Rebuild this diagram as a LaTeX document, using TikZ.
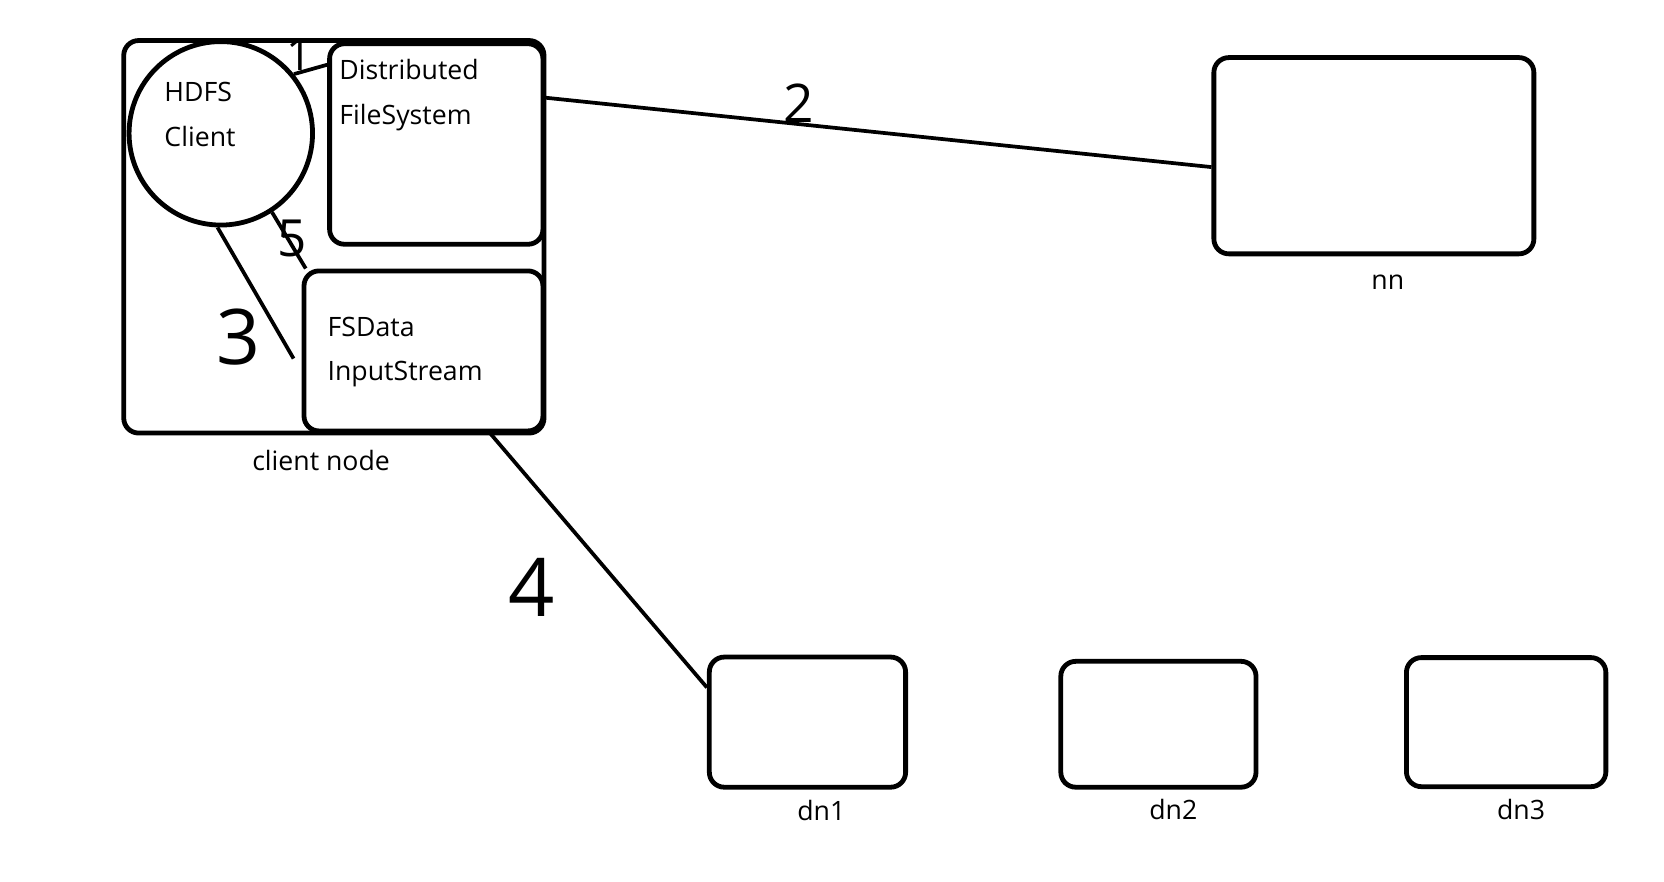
\documentclass[tikz,border=0pt]{standalone}
\usepackage{fontspec}
\setmainfont{Open Sans}
\usetikzlibrary{positioning}

\begin{document}
\begin{tikzpicture}[x=1pt,y=-1pt,
  every node/.style={font=\fontsize{25}{42}\selectfont},
  box/.style={draw,line width=4.5pt,rounded corners=14pt,inner sep=0pt},
  txt/.style={align=left,inner sep=0pt,anchor=base west},
  caption/.style={inner sep=0pt,text height=18pt,text depth=5pt},
  num/.style={font=\fontsize{#1}{#1}\selectfont,inner sep=0pt},
  conn/.style={line width=3.5pt}]
  \useasboundingbox (0,0) rectangle (1560,826);

  % client node and what runs in it
  \node (cn) [box,minimum width=394pt,minimum height=368pt] at (313,222) {};
  \node (client) [box,circle,minimum size=172pt] at (207,125) {};
  \node (dfs) [box,minimum width=200pt,minimum height=188pt] at (409,135) {};
  \node (fsd) [box,minimum width=224pt,minimum height=150pt] at (397,329) {};

  \node (clienttxt) [txt] at (154,137) {HDFS\\Client};
  \node (dfstxt) [txt] at (318,117) {Distributed\\FileSystem};
  \node (fsdtxt) [txt] at (307,357) {FSData\\InputStream};
  \node (cnlbl) [caption,below=15pt of cn,xshift=-12pt] {client node};

  % namenode and datanodes
  \node (nn) [box,minimum width=300pt,minimum height=184pt] at (1288,146) {};
  \node (dn1) [box,minimum width=184pt,minimum height=122pt] at (757,677) {};
  \node (dn2) [box,minimum width=183pt,minimum height=118pt] at (1086,679) {};
  \node (dn3) [box,minimum width=187pt,minimum height=121pt] at (1412,677) {};

  \node (nnlbl) [caption,below=13pt of nn,xshift=13pt] {nn};
  \node (dn1lbl) [caption,below=11pt of dn1,xshift=13pt] {dn1};
  \node (dn2lbl) [caption,below=10pt of dn2,xshift=14pt] {dn2};
  \node (dn3lbl) [caption,below=10pt of dn3,xshift=14pt] {dn3};

  % the steps
  \path[conn]
    (client.39) edge node [num=42,pos=0.17,above] (l1) {1} (dfs.144)
    (client.-57) edge node [num=48,pos=0.46,xshift=4pt] (l5) {5} (fsd.145)
    (client.-92) edge [shorten >=15pt] node [num=72,pos=0.756,xshift=-40pt] (l3) {3} (fsd.190)
    (dfs.23) edge node [num=50,pos=0.38,above] (l2) {2} (nn.184)
    (fsd.-51) edge node [num=76,pos=0.608,xshift=-85pt] (l4) {4} (dn1.161);

\end{tikzpicture}
\end{document}
